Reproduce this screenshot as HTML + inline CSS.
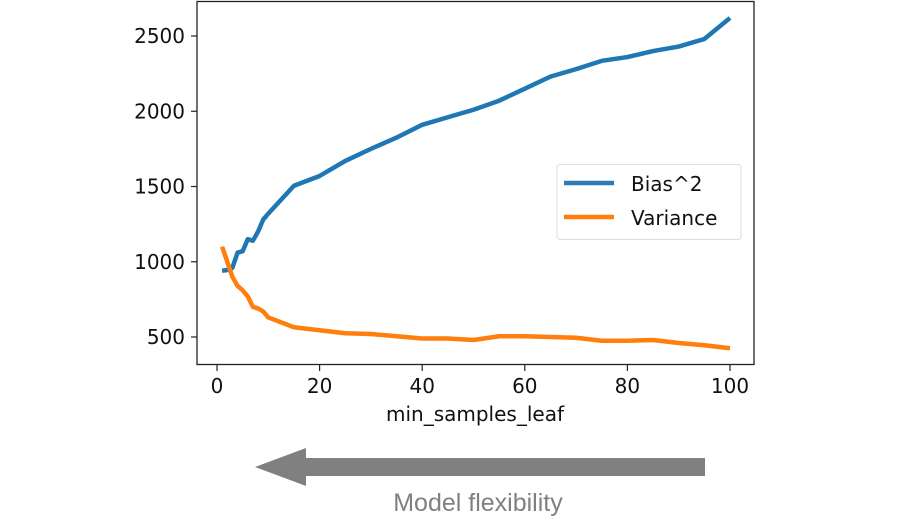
<!DOCTYPE html>
<html><head><meta charset="utf-8"><style>
body{margin:0;background:#fff;width:901px;height:521px;overflow:hidden}
svg{display:block;font-family:"DejaVu Sans","Liberation Sans",sans-serif}
</style></head><body>
<svg id="chart" width="901" height="521">
<rect x="197" y="1.5" width="557" height="363" fill="none" stroke="#222" stroke-width="1.3"/>
<g id="ticks"></g>
<g id="lines"></g>
<text x="475" y="421" font-size="20" text-anchor="middle" fill="#111">min_samples_leaf</text>
<g>
<rect x="557" y="164.5" width="184" height="75" rx="3" fill="#fff" stroke="#ddd"/>
<line x1="564" y1="183" x2="614" y2="183" stroke="#2c7bb6" stroke-width="4.5" stroke="#1f77b4"/>
<text x="631" y="191" font-size="20" fill="#111">Bias^2</text>
<line x1="564" y1="217" x2="614" y2="217" stroke="#ff7f0e" stroke-width="4.5"/>
<text x="631" y="225" font-size="20" fill="#111">Variance</text>
</g>
<g>
<rect x="300" y="458" width="405" height="18" fill="#808080"/>
<polygon points="255,467 306,448 306,486" fill="#808080"/>
</g>
<text x="478" y="511" font-size="25" text-anchor="middle" fill="#808080" font-family="Liberation Sans, sans-serif">Model flexibility</text>
</svg>
<script>
const xs=[1,2,3,4,5,6,7,8,9,10,15,20,25,30,35,40,45,50,55,60,65,70,75,80,85,90,95,100];
const biasVals=[940,945,960,1060,1070,1150,1140,1200,1280,1320,1505,1570,1670,1750,1825,1910,1960,2010,2070,2150,2230,2280,2335,2360,2400,2430,2480,2620];
const varVals=[1100,1000,900,840,810,770,700,690,670,630,565,545,525,520,505,490,490,480,505,505,500,495,475,475,480,460,445,425];
const xTicks=[0,20,40,60,80,100];
const yTicks=[500,1000,1500,2000,2500];
const X=v=>217+v*5.13, Y=v=>337-(v-500)*0.1505;
const NS="http://www.w3.org/2000/svg";
const tg=document.getElementById('ticks'), lg=document.getElementById('lines');
function mk(tag,attrs,parent){const e=document.createElementNS(NS,tag);for(const k in attrs)e.setAttribute(k,attrs[k]);parent.appendChild(e);return e;}
xTicks.forEach(t=>{
 const l=mk('line',{x1:X(t),x2:X(t),y1:365,y2:371,stroke:'#222','stroke-width':1.2},tg);
 
 
 const tx=mk('text',{x:X(t),y:393,'font-size':20,'text-anchor':'middle',fill:'#111'},tg);tx.textContent=t;
 
 
});
yTicks.forEach(t=>{
 const l=mk('line',{x1:191,x2:197,y1:Y(t),y2:Y(t),stroke:'#222','stroke-width':1.2},tg);
 
 
 const tx=mk('text',{x:185,y:Y(t)+7,'font-size':20,'text-anchor':'end',fill:'#111'},tg);tx.textContent=t;
 
 
});
function series(vals,color,name){
 const p=mk('polyline',{points:xs.map((x,i)=>X(x)+','+Y(vals[i])).join(' '),fill:'none',stroke:color,'stroke-width':4.5,'stroke-linejoin':'round'},lg);
 
 
}
series(biasVals,'#1f77b4','bias-line');
series(varVals,'#ff7f0e','variance-line');
</script>
</body></html>
